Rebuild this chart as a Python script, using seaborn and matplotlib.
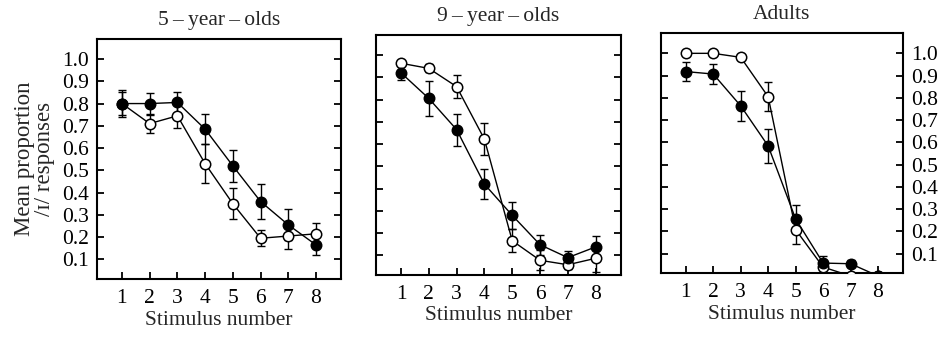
"""Identification curves for three age groups (filled vs open conditions)."""

import matplotlib.pyplot as plt
import numpy as np
import pandas as pd
import seaborn as sns

stimulus = [1, 2, 3, 4, 5, 6, 7, 8]
group_titles = [
    "5\u2009\u2013\u2009year\u2009\u2013\u2009olds",
    "9\u2009\u2013\u2009year\u2009\u2013\u2009olds",
    "Adults",
]

# 5-year-olds
kids5_filled = [0.80, 0.80, 0.805, 0.685, 0.52, 0.36, 0.255, 0.165]
kids5_filled_err = [0.05, 0.048, 0.046, 0.066, 0.073, 0.08, 0.07, 0.043]
kids5_open = [0.80, 0.71, 0.745, 0.53, 0.35, 0.195, 0.205, 0.215]
kids5_open_err = [0.06, 0.04, 0.055, 0.087, 0.07, 0.035, 0.057, 0.05]

# 9-year-olds
kids9_filled = [0.92, 0.805, 0.665, 0.42, 0.28, 0.148, 0.09, 0.138]
kids9_filled_err = [0.033, 0.08, 0.072, 0.068, 0.06, 0.045, 0.03, 0.047]
kids9_open = [0.963, 0.94, 0.858, 0.622, 0.166, 0.078, 0.058, 0.087]
kids9_open_err = [0.01, 0.018, 0.051, 0.072, 0.052, 0.045, 0.02, 0.06]

# adults
adult_filled = [0.918, 0.907, 0.764, 0.584, 0.256, 0.058, 0.055, 0.0]
adult_filled_err = [0.043, 0.043, 0.068, 0.078, 0.064, 0.032, 0.015, 0.0]
adult_open = [1.0, 1.0, 0.982, 0.805, 0.208, 0.04, 0.0, 0.0]
adult_open_err = [0.0, 0.0, 0.0, 0.065, 0.066, 0.03, 0.0, 0.0]

y_ticks = [0.1, 0.2, 0.3, 0.4, 0.5, 0.6, 0.7, 0.8, 0.9, 1.0]

SERIF = ["Liberation Serif", "DejaVu Serif"]
FONT_SIZE = 15.5
YLABEL_SIZE = 16.5

PANELS = [
    (kids5_filled, kids5_filled_err, kids5_open, kids5_open_err),
    (kids9_filled, kids9_filled_err, kids9_open, kids9_open_err),
    (adult_filled, adult_filled_err, adult_open, adult_open_err),
]
# axes rectangles in figure fractions
AXES_RECTS = [
    [0.1023, 0.1721, 0.2574, 0.7122],
    [0.3966, 0.1840, 0.2581, 0.7122],
    [0.6973, 0.1890, 0.2550, 0.7122],
]


def draw_series(ax, values, errors, face):
    frame = pd.DataFrame({"stimulus": stimulus, "value": values})
    ax.errorbar(
        frame["stimulus"], frame["value"], yerr=np.asarray(errors),
        fmt="none", ecolor="black", elinewidth=1.0, capsize=3, capthick=1.0,
        zorder=2,
    )
    sns.lineplot(
        data=frame, x="stimulus", y="value", ax=ax, color="black",
        linewidth=1.0, marker="o", markersize=7.5, markerfacecolor=face,
        markeredgecolor="black", markeredgewidth=1.1, zorder=3,
    )


def main() -> None:
    sns.set_theme(style="ticks")
    plt.rcParams["font.family"] = SERIF

    fig = plt.figure(figsize=(9.48, 3.37), dpi=100)
    for index, (filled, filled_err, opened, opened_err) in enumerate(PANELS):
        ax = fig.add_axes(AXES_RECTS[index])
        draw_series(ax, opened, opened_err, "white")
        draw_series(ax, filled, filled_err, "black")

        ax.set_xlim(0.1, 8.9)
        ax.set_ylim(0.012, 1.09)
        ax.set_xticks(stimulus)
        ax.set_yticks(y_ticks)
        ax.set_xticklabels([str(s) for s in stimulus], fontsize=FONT_SIZE)
        ax.set_yticklabels([f"{t:.1f}" for t in y_ticks], fontsize=FONT_SIZE)
        ax.tick_params(direction="in", length=5, width=1.3, colors="black")
        ax.tick_params(axis="x", top=False, pad=7)
        ax.tick_params(axis="y", left=True, right=True, pad=6,
                       labelleft=(index == 0), labelright=(index == 2))
        for spine in ax.spines.values():
            spine.set_visible(True)
            spine.set_linewidth(1.5)
            spine.set_color("black")

        ax.set_title(group_titles[index], fontsize=FONT_SIZE, pad=10)
        ax.set_xlabel("Stimulus number", fontsize=FONT_SIZE, labelpad=2)
        if index == 0:
            ax.set_ylabel("Mean proportion\n/\u026a/ responses",
                          fontsize=YLABEL_SIZE, linespacing=0.95, labelpad=5)
        else:
            ax.set_ylabel("")

    fig.savefig("out.png", dpi=100)
    plt.close(fig)


if __name__ == "__main__":
    main()
